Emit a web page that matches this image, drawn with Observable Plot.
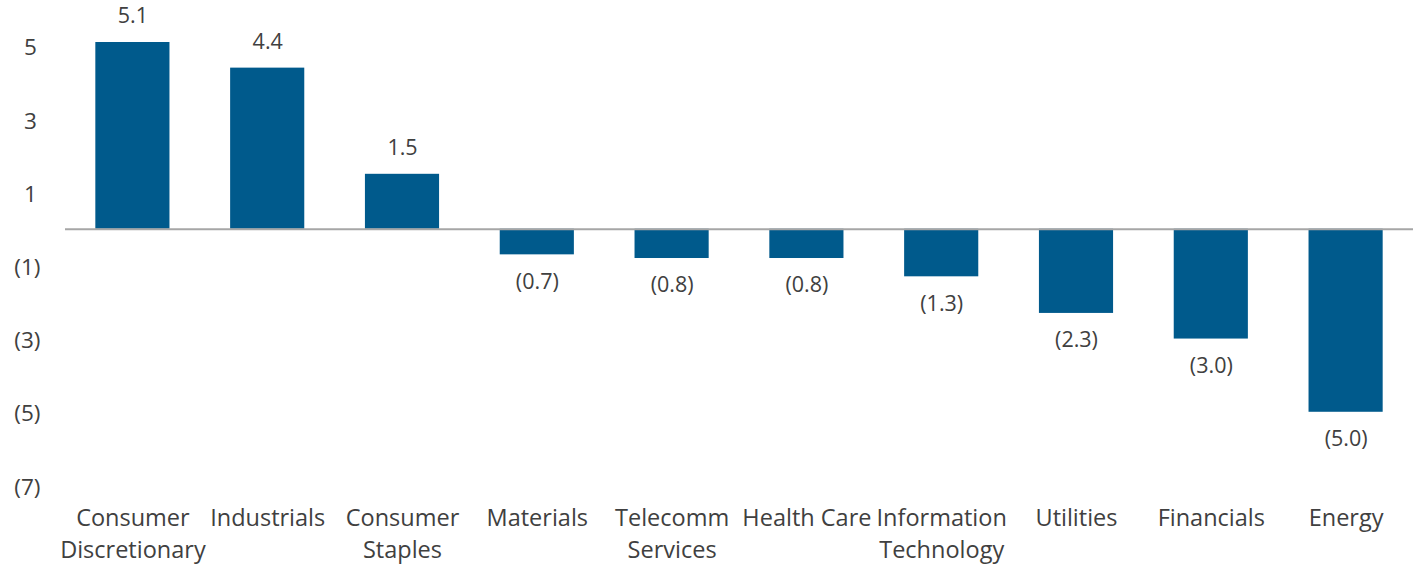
<!DOCTYPE html>
<html>
<head>
<meta charset="utf-8">
<script src="https://cdn.jsdelivr.net/npm/d3@7"></script>
<script src="https://cdn.jsdelivr.net/npm/@observablehq/plot@0.6"></script>
<style>
  html, body { margin: 0; padding: 0; background: #fff; }
  #chart { width: 1419px; height: 565px; }
  svg { font-family: "Open Sans", Lato, sans-serif; }
</style>
</head>
<body>
<div id="chart"></div>
<script>
const categories = ["Consumer\nDiscretionary", "Industrials", "Consumer\nStaples", "Materials", "Telecomm\nServices", "Health Care", "Information\nTechnology", "Utilities", "Financials", "Energy"];
const values = [5.1, 4.4, 1.5, -0.7, -0.8, -0.8, -1.3, -2.3, -3.0, -5.0];
const yTicks = [5, 3, 1, -1, -3, -5, -7];

const data = categories.map((c, i) => ({category: c, value: values[i]}));
const fmtVal = v => v < 0 ? `(${Math.abs(v).toFixed(1)})` : v.toFixed(1);
const fmtTick = v => v < 0 ? `(${Math.abs(v)})` : `${v}\u2009`;

const textColor = "#404040";

const chart = Plot.plot({
  width: 1419,
  height: 565,
  marginLeft: 65,
  marginRight: 6,
  marginTop: 42,
  marginBottom: 80,
  style: {fontFamily: "'Open Sans', Lato, sans-serif", color: textColor, background: "#fff"},
  x: {domain: categories, paddingInner: 0.45, paddingOuter: 0.225, round: false, label: null},
  y: {domain: [-7, 5.1], label: null},
  marks: [
    Plot.barY(data, {x: "category", y: "value", fill: "#005a8c"}),
    Plot.ruleY([0], {stroke: "#a6a6a6", strokeWidth: 2}),
    Plot.text(data.filter(d => d.value >= 0), {x: "category", y: "value", text: d => fmtVal(d.value), dy: -26, fontSize: 21.5, fill: textColor}),
    Plot.text(data.filter(d => d.value < 0), {x: "category", y: "value", text: d => fmtVal(d.value), dy: 27, fontSize: 21.5, fill: textColor}),
    Plot.axisY({ticks: yTicks, tickSize: 0, tickPadding: 25, tickFormat: fmtTick, fontSize: 22.5, fill: textColor, dy: 2}),
    Plot.axisX({tickSize: 0, tickPadding: 18, fontSize: 23.5, lineHeight: 1.36, fill: textColor, textAnchor: "middle"})
  ]
});
document.getElementById("chart").appendChild(chart);
</script>
</body>
</html>
